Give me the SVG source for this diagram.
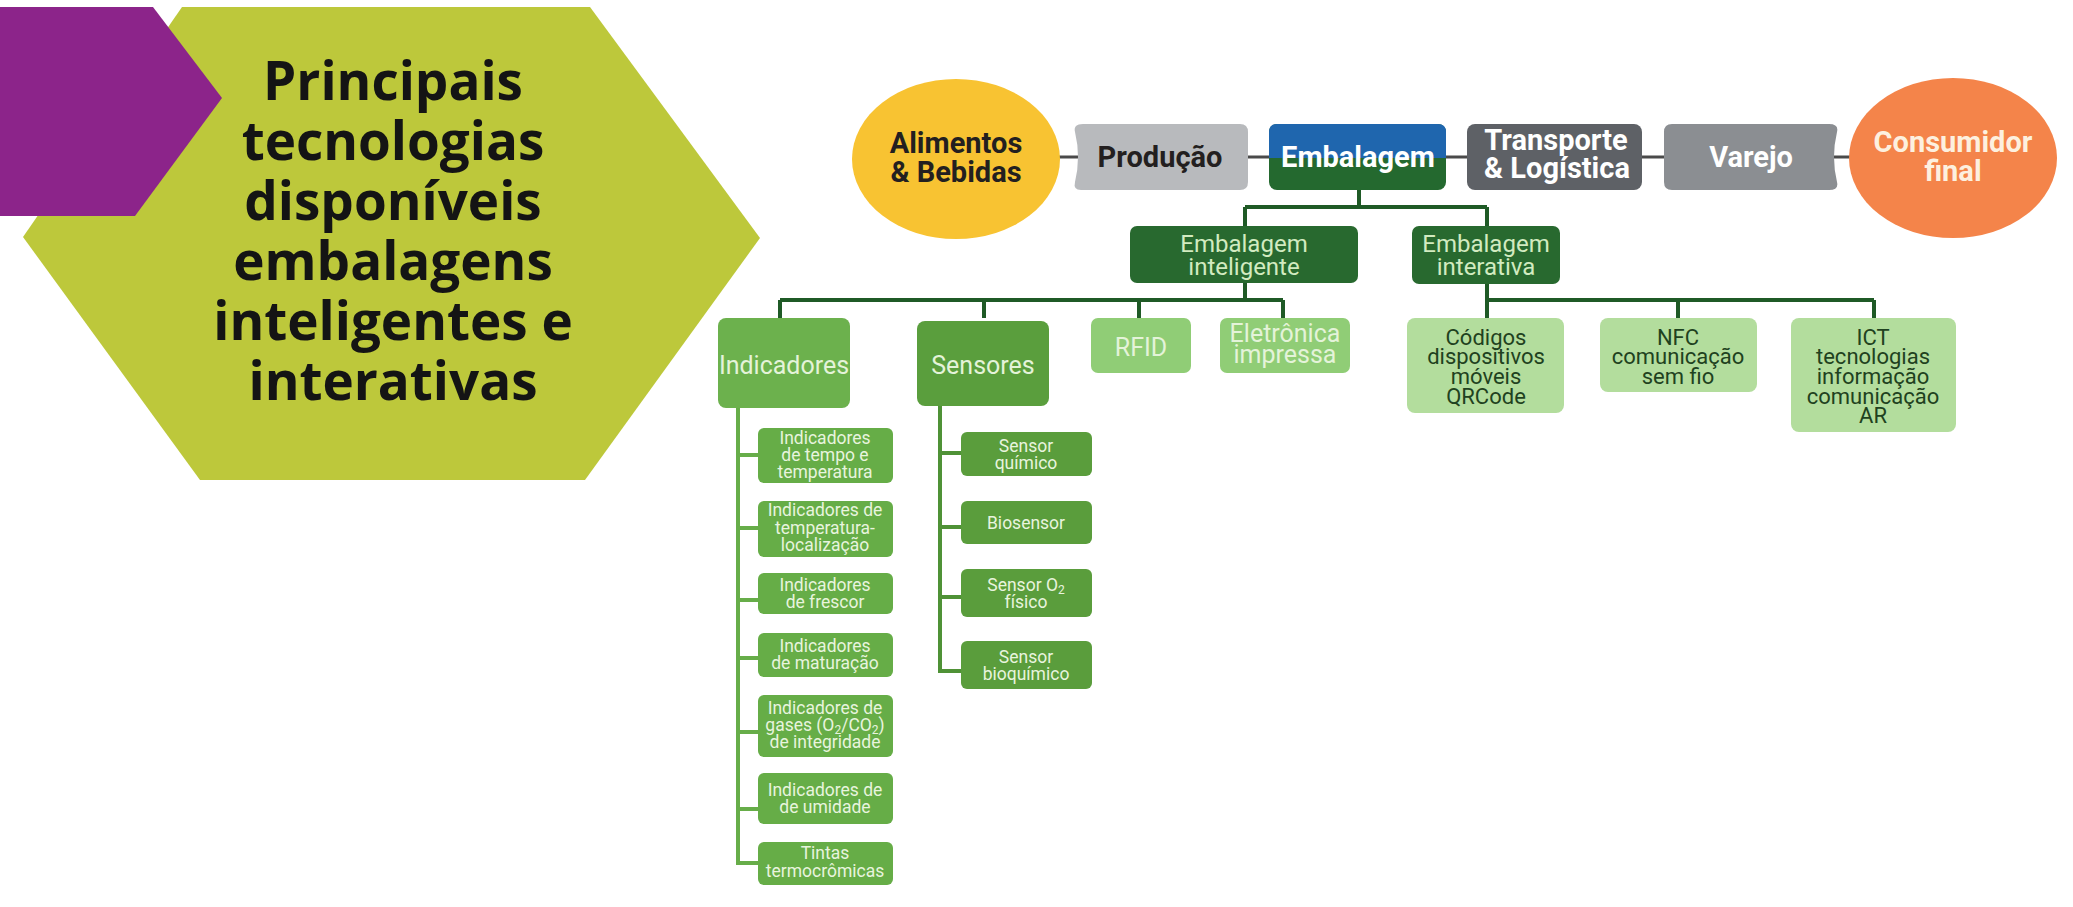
<svg xmlns="http://www.w3.org/2000/svg" width="2073" height="907" viewBox="0 0 2073 907">
<style>
.title{font-family:"Open Sans","Noto Sans",sans-serif;font-weight:700;font-size:53px;fill:#141414;text-anchor:middle}
.flow{font-family:Roboto,"Liberation Sans",sans-serif;font-weight:700;font-size:29px;text-anchor:middle}
.lvl2{font-family:Roboto,"Liberation Sans",sans-serif;font-size:24px;fill:#d2ebc0;text-anchor:middle}
.lvl3{font-family:Roboto,"Liberation Sans",sans-serif;font-size:25px;fill:#e4f3d9;text-anchor:middle}
.lvl3i{font-family:Roboto,"Liberation Sans",sans-serif;font-size:22px;fill:#1f4220;text-anchor:middle}
.sub{font-family:Roboto,"Liberation Sans",sans-serif;font-size:17.5px;fill:#e8f4de;text-anchor:middle}
.tree{stroke:#1f5a26;stroke-width:4;fill:none}
.flowline{stroke:#4a4a4a;stroke-width:3;fill:none}
.indline{stroke:#67ad49;stroke-width:4;fill:none}
.senline{stroke:#4f9236;stroke-width:4;fill:none}
.dark{fill:#28692f}
.ind{fill:#6cb14d}
.sen{fill:#5a9e3d}
.light{fill:#90cd76}
.pale{fill:#b3dd9d}
.indsub{fill:#66ad47}
.sensub{fill:#5a9d3c}
</style>
<rect width="2073" height="907" fill="#ffffff"/>

<g id="title-hexagons">
  <polygon points="182,7 590,7 760,238 585,480 200,480 23,237" fill="#bdc83b"/>
  <polygon points="0,7 153,7 222,98 135,216 0,216" fill="#8c248a"/>
  <text class="title"><tspan x="393" y="100">Principais</tspan><tspan x="393" y="160">tecnologias</tspan><tspan x="393" y="220">disponíveis</tspan><tspan x="393" y="280">embalagens</tspan><tspan x="393" y="340">inteligentes e</tspan><tspan x="393" y="400">interativas</tspan></text>
</g>

<g id="connectors">
  <line class="flowline" x1="1040" y1="157" x2="1870" y2="157"/>
  <path class="tree" d="M1359,190 V207 M1245,207 H1487 M1245,207 V226 M1487,207 V226"/>
  <path class="tree" d="M1245,283 V300 M780,300 H1283 M780,300 V318 M984,300 V318 M1139,300 V318 M1283,300 V318"/>
  <path class="tree" d="M1487,284 V300 H1874 M1487,300 V318 M1678,300 V318 M1874,300 V318"/>
  <path class="indline" d="M738,408 V863 H758 M738,455 H758 M738,528 H758 M738,600 H758 M738,658 H758 M738,732 H758 M738,809 H758"/>
  <path class="senline" d="M940,406 V671 H961 M940,453 H961 M940,527 H961 M940,597 H961"/>
</g>

<g id="alimentos">
  <ellipse cx="956" cy="159" rx="104" ry="80" fill="#f8c332"/>
  <text class="flow" fill="#231f20"><tspan x="956" y="153">Alimentos</tspan><tspan x="956" y="182">&amp; Bebidas</tspan></text>
</g>
<g id="producao">
  <path d="M1083,124 H1240 Q1248,124 1248,132 V182 Q1248,190 1240,190 H1081 Q1073,190 1075,182 Q1081,157 1075,132 Q1073,124 1083,124 Z" fill="#b8babd"/>
  <text class="flow" fill="#231f20" x="1160" y="167">Produção</text>
</g>
<g id="embalagem">
  <rect x="1269" y="124" width="177" height="66" rx="8" fill="#24692f"/>
  <path d="M1269,158 V132 Q1269,124 1277,124 H1438 Q1446,124 1446,132 V158 Z" fill="#1f66ae"/>
  <text class="flow" fill="#ffffff" x="1358" y="167">Embalagem</text>
</g>
<g id="transporte">
  <rect x="1467" y="124" width="175" height="66" rx="8" fill="#5e6166"/>
  <text class="flow" fill="#ffffff"><tspan x="1556" y="150">Transporte</tspan><tspan x="1557" y="178">&amp; Logística</tspan></text>
</g>
<g id="varejo">
  <path d="M1672,124 H1829 Q1839,124 1837,132 Q1831,157 1837,182 Q1839,190 1829,190 H1672 Q1664,190 1664,182 V132 Q1664,124 1672,124 Z" fill="#8b8e92"/>
  <text class="flow" fill="#ffffff" x="1751" y="167">Varejo</text>
</g>
<g id="consumidor">
  <ellipse cx="1953" cy="158" rx="104" ry="80" fill="#f4844a"/>
  <text class="flow" fill="#fdf0df"><tspan x="1953" y="152">Consumidor</tspan><tspan x="1953" y="181">final</tspan></text>
</g>

<g id="emb-inteligente">
  <rect class="dark" x="1130" y="226" width="228" height="57" rx="7"/>
  <text class="lvl2"><tspan x="1244" y="252">Embalagem</tspan><tspan x="1244" y="275">inteligente</tspan></text>
</g>
<g id="emb-interativa">
  <rect class="dark" x="1412" y="226" width="148" height="58" rx="7"/>
  <text class="lvl2"><tspan x="1486" y="252">Embalagem</tspan><tspan x="1486" y="275">interativa</tspan></text>
</g>

<g id="indicadores">
  <rect class="ind" x="718" y="318" width="132" height="90" rx="8"/>
  <text class="lvl3" x="784" y="374">Indicadores</text>
</g>
<g id="sensores">
  <rect class="sen" x="917" y="321" width="132" height="85" rx="8"/>
  <text class="lvl3" x="983" y="374">Sensores</text>
</g>
<g id="rfid">
  <rect class="light" x="1091" y="318" width="100" height="55" rx="7"/>
  <text class="lvl3" x="1141" y="356">RFID</text>
</g>
<g id="eletronica">
  <rect class="light" x="1220" y="318" width="130" height="55" rx="7"/>
  <text class="lvl3" font-size="22"><tspan x="1285" y="342">Eletrônica</tspan><tspan x="1285" y="363">impressa</tspan></text>
</g>

<g id="codigos">
  <rect class="pale" x="1407" y="318" width="157" height="95" rx="8"/>
  <text class="lvl3i"><tspan x="1486" y="345">Códigos</tspan><tspan x="1486" y="364">dispositivos</tspan><tspan x="1486" y="384">móveis</tspan><tspan x="1486" y="404">QRCode</tspan></text>
</g>
<g id="nfc">
  <rect class="pale" x="1600" y="318" width="157" height="74" rx="8"/>
  <text class="lvl3i"><tspan x="1678" y="345">NFC</tspan><tspan x="1678" y="364">comunicação</tspan><tspan x="1678" y="384">sem fio</tspan></text>
</g>
<g id="ict">
  <rect class="pale" x="1791" y="318" width="165" height="114" rx="8"/>
  <text class="lvl3i"><tspan x="1873" y="345">ICT</tspan><tspan x="1873" y="364">tecnologias</tspan><tspan x="1873" y="384">informação</tspan><tspan x="1873" y="404">comunicação</tspan><tspan x="1873" y="423">AR</tspan></text>
</g>

<g id="ind-tempo">
  <rect class="indsub" x="758" y="428" width="135" height="55" rx="6"/>
  <text class="sub"><tspan x="825" y="444">Indicadores</tspan><tspan x="825" y="461">de tempo e</tspan><tspan x="825" y="478">temperatura</tspan></text>
</g>
<g id="ind-localizacao">
  <rect class="indsub" x="758" y="501" width="135" height="56" rx="6"/>
  <text class="sub"><tspan x="825" y="516">Indicadores de</tspan><tspan x="825" y="534">temperatura-</tspan><tspan x="825" y="551">localização</tspan></text>
</g>
<g id="ind-frescor">
  <rect class="indsub" x="758" y="573" width="135" height="41" rx="6"/>
  <text class="sub"><tspan x="825" y="591">Indicadores</tspan><tspan x="825" y="608">de frescor</tspan></text>
</g>
<g id="ind-maturacao">
  <rect class="indsub" x="758" y="633" width="135" height="44" rx="6"/>
  <text class="sub"><tspan x="825" y="652">Indicadores</tspan><tspan x="825" y="669">de maturação</tspan></text>
</g>
<g id="ind-gases">
  <rect class="indsub" x="758" y="695" width="135" height="62" rx="6"/>
  <text class="sub"><tspan x="825" y="714">Indicadores de</tspan><tspan x="825" y="731">gases (O<tspan font-size="12" dy="3">2</tspan><tspan dy="-3">/CO</tspan><tspan font-size="12" dy="3">2</tspan><tspan dy="-3">)</tspan></tspan><tspan x="825" y="748">de integridade</tspan></text>
</g>
<g id="ind-umidade">
  <rect class="indsub" x="758" y="773" width="135" height="51" rx="6"/>
  <text class="sub"><tspan x="825" y="796">Indicadores de</tspan><tspan x="825" y="813">de umidade</tspan></text>
</g>
<g id="ind-tintas">
  <rect class="indsub" x="758" y="842" width="135" height="43" rx="6"/>
  <text class="sub"><tspan x="825" y="859">Tintas</tspan><tspan x="825" y="877">termocrômicas</tspan></text>
</g>

<g id="sen-quimico">
  <rect class="sensub" x="961" y="432" width="131" height="44" rx="6"/>
  <text class="sub"><tspan x="1026" y="452">Sensor</tspan><tspan x="1026" y="469">químico</tspan></text>
</g>
<g id="sen-bio">
  <rect class="sensub" x="961" y="501" width="131" height="43" rx="6"/>
  <text class="sub" x="1026" y="529">Biosensor</text>
</g>
<g id="sen-o2">
  <rect class="sensub" x="961" y="569" width="131" height="48" rx="6"/>
  <text class="sub"><tspan x="1026" y="591">Sensor O<tspan font-size="12" dy="3">2</tspan></tspan><tspan x="1026" y="608">físico</tspan></text>
</g>
<g id="sen-bioquimico">
  <rect class="sensub" x="961" y="641" width="131" height="48" rx="6"/>
  <text class="sub"><tspan x="1026" y="663">Sensor</tspan><tspan x="1026" y="680">bioquímico</tspan></text>
</g>
</svg>
